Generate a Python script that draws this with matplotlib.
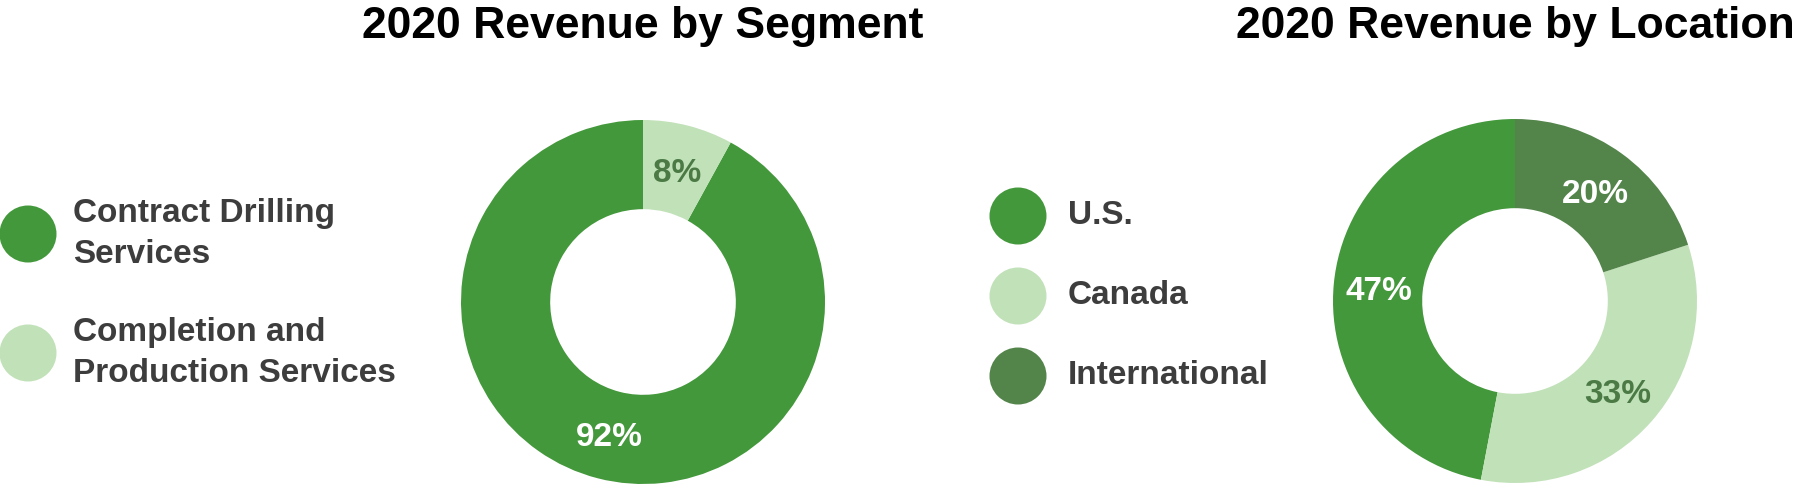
import matplotlib
matplotlib.use("Agg")
import matplotlib.pyplot as plt
from matplotlib.patches import Circle

plt.rcParams['font.family'] = ['Liberation Sans', 'DejaVu Sans']

# ---- data ----
seg_title = "2020 Revenue by Segment"
seg_labels = ["Contract Drilling\nServices", "Completion and\nProduction Services"]
seg_values = [92, 8]

loc_title = "2020 Revenue by Location"
loc_labels = ["U.S.", "Canada", "International"]
loc_values = [47, 33, 20]

# ---- style ----
GREEN = "#43983b"
LIGHT = "#c1e1b8"
DARK = "#53844a"
TEXT = "#3d3d3d"
LABEL_DARK = "#4b7a45"
seg_colors = [GREEN, LIGHT]
loc_colors = [GREEN, LIGHT, DARK]

W, H = 1800, 488
fig = plt.figure(figsize=(W / 100, H / 100), dpi=100)
fig.patch.set_facecolor("white")

R = 182  # donut outer radius in px


def donut(cx, cy, values, colors, title):
    ax = fig.add_axes([(cx - R) / W, (H - (cy + R)) / H, 2 * R / W, 2 * R / H])
    wedges, texts, autotexts = ax.pie(
        values, colors=colors, startangle=90, counterclock=True,
        autopct=lambda p: f"{p:.0f}%", pctdistance=0.75,
        wedgeprops=dict(width=0.49, linewidth=0),
        textprops=dict(fontsize=24, fontweight="bold"))
    for t, c in zip(autotexts, colors):
        t.set_color(LABEL_DARK if c == LIGHT else "white")
        t.set_va("center_baseline")
    ax.set_xlim(-1, 1)
    ax.set_ylim(-1, 1)
    ax.set_aspect("equal")
    ax.axis("off")
    fig.text(cx / W, (H - 38) / H, title, ha="center", va="baseline",
             fontsize=32, fontweight="bold", color="black")


donut(643, 302, seg_values, seg_colors, seg_title)
donut(1515, 301, loc_values, loc_colors, loc_title)

# legend overlay in pixel coordinates
ov = fig.add_axes([0, 0, 1, 1], zorder=-1)
ov.set_xlim(0, W)
ov.set_ylim(H, 0)
ov.axis("off")


def legend(x_circle, x_text, y0, step, labels, colors):
    for i, (lab, col) in enumerate(zip(labels, colors)):
        y = y0 + i * step
        ov.add_patch(Circle((x_circle, y), 28.5, color=col, lw=0))
        ov.text(x_text, y, lab, ha="left", va="center", fontsize=24,
                fontweight="bold", color=TEXT, linespacing=1.38)


legend(28, 73, 234, 119, seg_labels, seg_colors)
legend(1018, 1068, 216, 80, loc_labels, loc_colors)

fig.savefig("out.png", dpi=100, facecolor="white")
